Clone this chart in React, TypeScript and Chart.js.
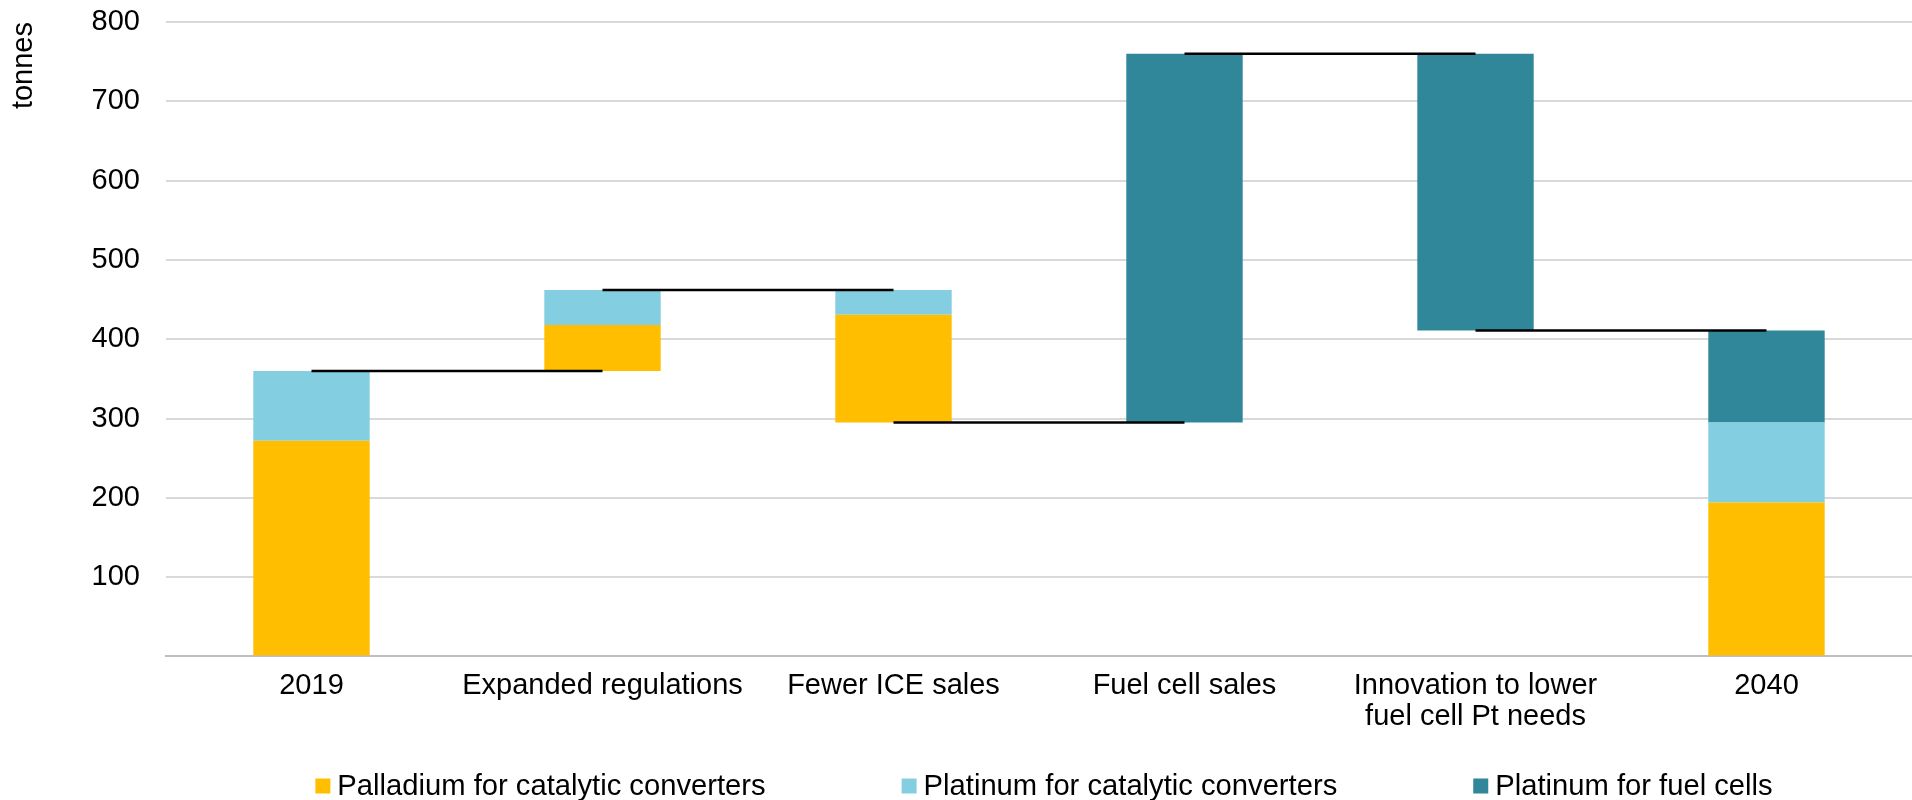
import React, { useEffect, useRef } from 'react';
import { Chart, registerables } from 'chart.js';

Chart.register(...registerables);

const FONT = '"Liberation Sans", Arial, Helvetica, sans-serif';

// Categories of the waterfall
const categories: (string | string[])[] = [
  '2019',
  'Expanded regulations',
  'Fewer ICE sales',
  'Fuel cell sales',
  ['Innovation to lower', 'fuel cell Pt needs'],
  '2040',
];
// true = total bar from zero, false = change from the previous level
const isTotal = [true, false, false, false, false, true];

// Series values (tonnes); for change bars these are deltas
const palladiumCatalytic = [272, 58, -136, 0, 0, 194];
const platinumCatalytic = [88, 44, -31, 0, 0, 101];
const platinumFuelCells = [0, 0, 0, 465, -349, 116];

const seriesNames = [
  'Palladium for catalytic converters',
  'Platinum for catalytic converters',
  'Platinum for fuel cells',
];
const seriesColors = ['#FFBE00', '#83CFE1', '#31879A'];

const yMin = 0;
const yMax = 800;
const yStep = 100;

function buildWaterfall() {
  const series = [palladiumCatalytic, platinumCatalytic, platinumFuelCells];
  const ranges: ([number, number] | null)[][] = series.map(() => []);
  const levels: number[] = [];
  let level = 0;
  categories.forEach((_, i) => {
    const deltas = series.map((s) => s[i]);
    const sum = deltas.reduce((a, b) => a + b, 0);
    const start = isTotal[i] ? 0 : level;
    const end = start + sum;
    let base = isTotal[i] ? 0 : Math.min(start, end);
    deltas.forEach((d, k) => {
      if (d === 0) {
        ranges[k].push(null);
        return;
      }
      const h = Math.abs(d);
      ranges[k].push([base, base + h]);
      base += h;
    });
    level = end;
    levels.push(end);
  });
  return { ranges, levels };
}

const legendPlugin = {
  id: 'customLegend',
  afterDraw(chart: any) {
    const { ctx, chartArea } = chart;
    ctx.save();
    ctx.font = `29.2px ${FONT}`;
    ctx.textBaseline = 'middle';
    ctx.textAlign = 'left';
    const box = 15;
    const gapText = 7;
    const gapItem = 136;
    const widths = seriesNames.map((n) => box + gapText + ctx.measureText(n).width);
    const total = widths.reduce((a, b) => a + b, 0) + gapItem * (seriesNames.length - 1);
    let x = (chartArea.left + chartArea.right) / 2 - total / 2 + 5;
    const y = chart.height - 14;
    seriesNames.forEach((name, k) => {
      ctx.fillStyle = seriesColors[k];
      ctx.fillRect(x, y - box / 2, box, box);
      ctx.fillStyle = '#000';
      ctx.fillText(name, x + box + gapText, y + 1);
      x += widths[k] + gapItem;
    });
    ctx.restore();
  },
};

export default function App() {
  const canvasRef = useRef<HTMLCanvasElement | null>(null);

  useEffect(() => {
    document.body.style.margin = '0';
    const canvas = canvasRef.current;
    if (!canvas) return;
    const { ranges, levels } = buildWaterfall();

    const barSets: any[] = seriesNames.map((name, k) => ({
      type: 'bar',
      label: name,
      data: ranges[k],
      backgroundColor: seriesColors[k],
      borderWidth: 0,
      grouped: false,
      categoryPercentage: 0.4,
      barPercentage: 1.0,
      order: 1,
    }));

    const connectorSets: any[] = levels.slice(0, levels.length - 1).map((lv, i) => ({
      type: 'line',
      label: 'connector' + i,
      data: categories.map((_, j) => (j === i || j === i + 1 ? lv : null)),
      borderColor: '#000000',
      borderWidth: 2.5,
      pointRadius: 0,
      pointHoverRadius: 0,
      fill: false,
      spanGaps: false,
      order: 0,
    }));

    const chart = new Chart(canvas, {
      type: 'bar',
      data: {
        labels: categories as any,
        datasets: [...barSets, ...connectorSets],
      },
      options: {
        responsive: false,
        animation: false,
        layout: { padding: { top: 22, right: 0, bottom: 53.5, left: 0 } },
        plugins: {
          legend: { display: false },
          tooltip: { enabled: false },
        },
        scales: {
          x: {
            type: 'category',
            offset: true,
            grid: { display: false, drawTicks: false },
            border: { display: true, color: '#BFBFBF', width: 2 },
            ticks: {
              color: '#000',
              font: { family: FONT, size: 29, lineHeight: 1.07 },
              padding: 14,
              maxRotation: 0,
              autoSkip: false,
            },
          },
          y: {
            min: yMin,
            max: yMax,
            grid: { color: '#D9D9D9', lineWidth: 2, drawTicks: false },
            border: { display: false },
            ticks: {
              stepSize: yStep,
              color: '#000',
              font: { family: FONT, size: 29 },
              padding: 26,
              callback: (v: any) => (Number(v) === 0 ? '' : String(v)),
            },
            title: {
              display: true,
              text: 'tonnes',
              align: 'end',
              color: '#000',
              font: { family: FONT, size: 29, lineHeight: 1.2 },
              padding: { top: 7, bottom: 0 },
            },
            afterFit: (scale: any) => {
              scale.width = 166;
              scale.paddingTop = 0;
              scale.paddingBottom = 0;
            },
          },
        },
      } as any,
      plugins: [legendPlugin],
    });

    return () => chart.destroy();
  }, []);

  return <canvas ref={canvasRef} width={1912} height={800} style={{ display: 'block' }} />;
}
